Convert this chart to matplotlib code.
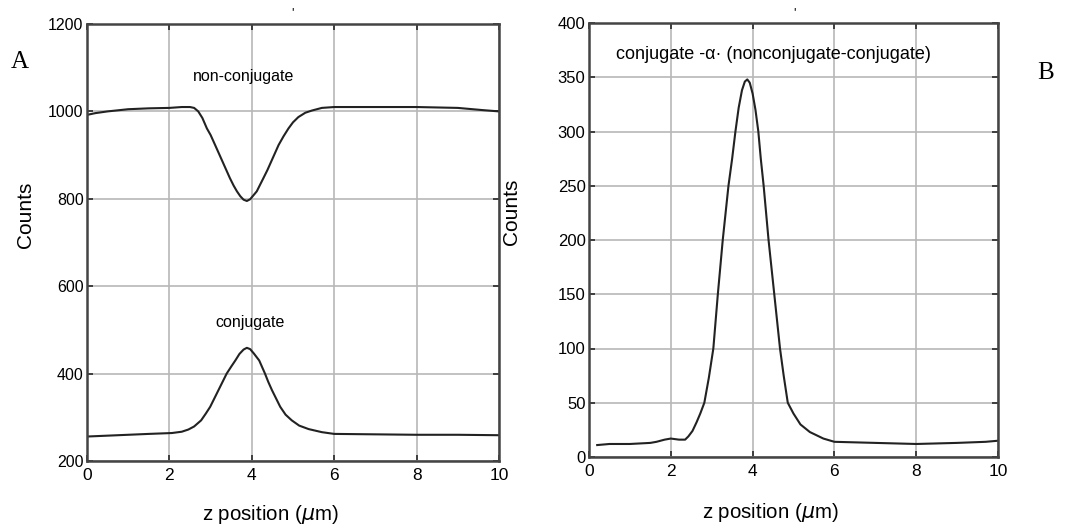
import matplotlib.pyplot as plt

# panel A: non-conjugate and conjugate profiles
z_non = [0.0, 0.2, 0.5, 1.0, 1.5, 2.0, 2.3, 2.5, 2.6, 2.7, 2.8, 2.91, 3.0,
         3.11, 3.2, 3.29, 3.38, 3.47, 3.56, 3.64, 3.72, 3.8, 3.88, 3.96,
         4.04, 4.12, 4.2, 4.28, 4.38, 4.47, 4.56, 4.65, 4.77, 4.89, 5.0,
         5.13, 5.3, 5.46, 5.7, 6.0, 7.0, 8.0, 9.0, 9.6, 10.0]
counts_non = [992, 996, 1000, 1005, 1007, 1008, 1010, 1010, 1008, 1000, 985, 961, 946,
              923, 904, 885, 866, 847, 830, 817, 806, 798, 795, 799,
              808, 817, 832, 847, 866, 885, 904, 923, 943, 961, 975,
              987, 997, 1002, 1008, 1010, 1010, 1010, 1008, 1003, 1000]

z_conj = [0.0, 0.5, 1.0, 1.5, 2.06, 2.3, 2.46, 2.6, 2.77, 2.88, 2.99, 3.09,
          3.19, 3.29, 3.39, 3.5, 3.6, 3.7, 3.8, 3.88, 3.96, 4.05, 4.18, 4.32,
          4.4, 4.49, 4.59, 4.69, 4.82, 4.97, 5.15, 5.38, 5.7, 6.0, 7.0, 8.0,
          9.0, 10.0]
counts_conj = [256, 258, 260, 262, 264, 267, 272, 279, 293, 308, 324, 343,
               362, 381, 400, 416, 430, 445, 455, 459, 456, 446, 430, 400,
               381, 362, 343, 324, 306, 293, 281, 273, 266, 262, 261, 260,
               260, 259]

# panel B: corrected profile
z_corr = [0.2, 0.5, 1.0, 1.5, 1.65, 1.85, 2.0, 2.2, 2.35, 2.43, 2.53, 2.63,
          2.72, 2.82, 2.93, 3.04, 3.15, 3.27, 3.34, 3.41, 3.5, 3.58, 3.66,
          3.74, 3.81, 3.87, 3.93, 4.0, 4.07, 4.14, 4.2, 4.27, 4.33, 4.39,
          4.53, 4.67, 4.76, 4.86, 5.0, 5.17, 5.4, 5.73, 6.0, 7.0, 8.0, 9.0,
          9.7, 10.0]
counts_corr = [11, 12, 12, 13, 14, 16, 17, 16, 16, 19, 24, 32,
               40, 50, 73, 100, 150, 200, 225, 250, 275, 300, 322,
               338, 346, 348, 345, 335, 320, 300, 275, 250, 225, 200,
               150, 100, 75, 50, 40, 30, 23, 17, 14, 13, 12, 13,
               14, 15]

xticks = [0, 2, 4, 6, 8, 10]
yticks_a = [200, 400, 600, 800, 1000, 1200]
yticks_b = [0, 50, 100, 150, 200, 250, 300, 350, 400]

W, H = 1081, 527
fig = plt.figure(figsize=(W / 100, H / 100), dpi=100)
plt.rcParams['font.family'] = ['Liberation Sans', 'DejaVu Sans']

ax_a = fig.add_axes([87 / W, 1 - 461 / H, (499 - 87) / W, (461 - 24) / H])
ax_b = fig.add_axes([589 / W, 1 - 457 / H, (998 - 589) / W, (457 - 23) / H])


def style(ax, yticks, ylim, ysize):
    ax.set_xlim(0, 10)
    ax.set_ylim(*ylim)
    ax.set_xticks(xticks)
    ax.set_yticks(yticks)
    ax.grid(True, color='#b8b8b8', lw=1.2)
    ax.set_axisbelow(True)
    ax.tick_params(direction='in', top=True, right=True, length=4,
                   width=1.3, color='#333333', labelsize=ysize, pad=2.5)
    ax.tick_params(axis='x', labelsize=12.5, pad=5)
    for s in ax.spines.values():
        s.set_color('#444444')
        s.set_linewidth(1.8)


ax_a.plot(z_non, counts_non, color='#222222', lw=1.5)
ax_a.plot(z_conj, counts_conj, color='#222222', lw=1.5)
style(ax_a, yticks_a, (200, 1200), 11.5)
ax_a.text(3.79, 1079, 'non-conjugate', ha='center', va='center', fontsize=11.5)
ax_a.text(3.96, 518, 'conjugate', ha='center', va='center', fontsize=11.5)

ax_b.plot(z_corr, counts_corr, color='#222222', lw=1.5)
style(ax_b, yticks_b, (0, 400), 12)
ax_b.text(4.5, 371, 'conjugate -α· (nonconjugate-conjugate)',
          ha='center', va='center', fontsize=13)

for x, y in [(25, 215), (512, 212)]:
    fig.text(x / W, 1 - y / H, 'Counts', rotation=90, ha='center',
             va='center', fontsize=15)
for x, y in [(270, 515), (770, 513)]:
    fig.text(x / W, 1 - y / H, r'z position ($\mu$m)', ha='center',
             va='center', fontsize=14.8)

fig.text(20 / W, 1 - 62 / H, 'A', family='Liberation Serif', fontsize=18,
         ha='center', va='center')
fig.text(1046 / W, 1 - 73 / H, 'B', family='Liberation Serif', fontsize=18,
         ha='center', va='center')
fig.text(293 / W, 1 - 13 / H, "'", fontsize=9, ha='center', va='center')
fig.text(795 / W, 1 - 13 / H, "'", fontsize=9, ha='center', va='center')

fig.savefig('out.png', dpi=100)
